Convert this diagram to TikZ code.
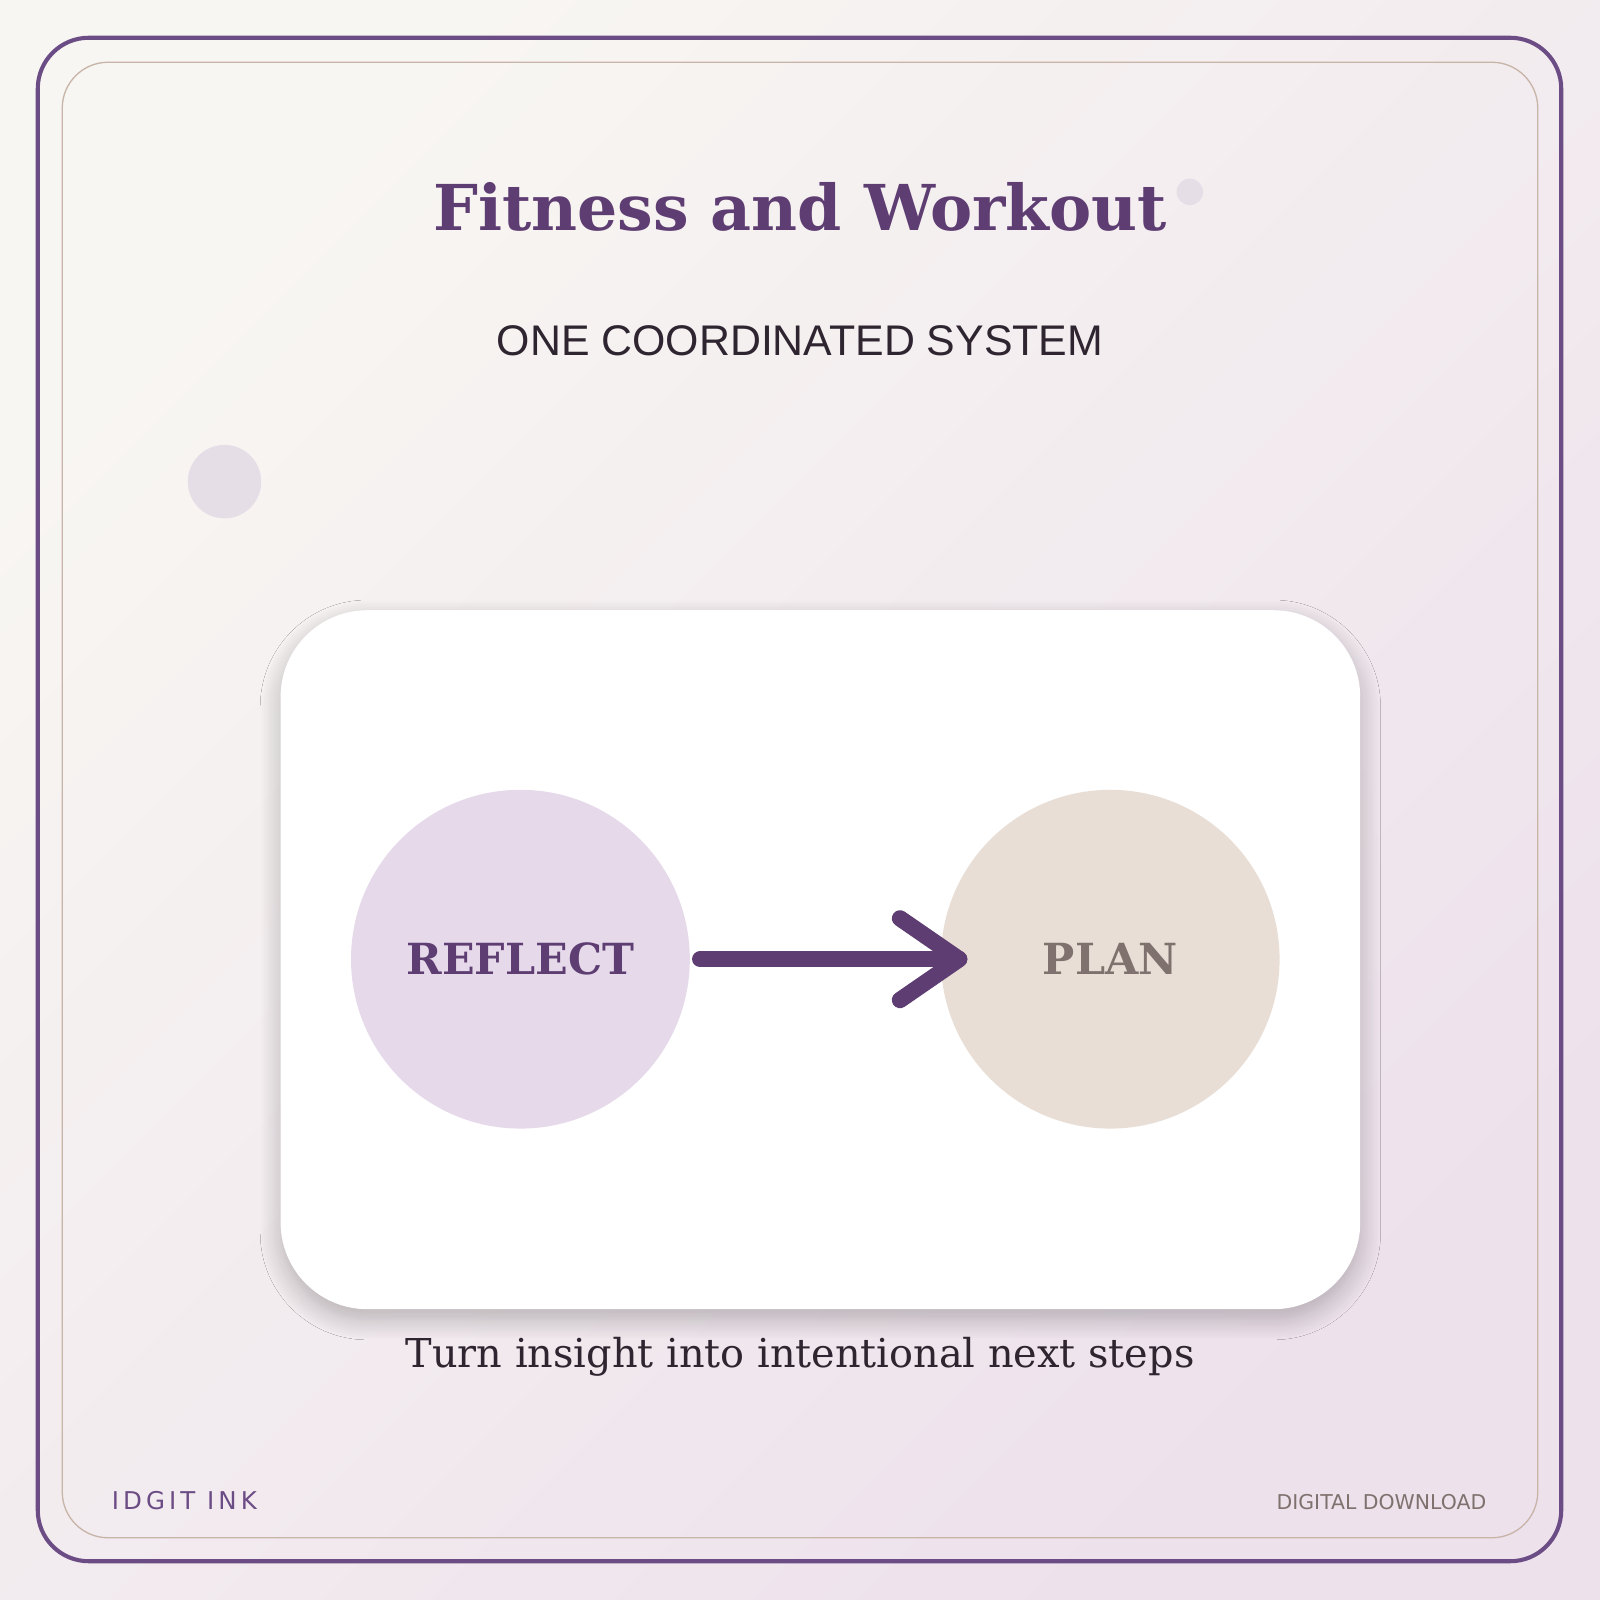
\documentclass[tikz,border=0pt]{standalone}
\usepackage{fontspec}
\setmainfont{DejaVu Serif}
\newfontfamily\lib{Liberation Sans}
\newfontfamily\dejasans{DejaVu Sans}
\usetikzlibrary{shadows.blur}
\definecolor{bgA}{HTML}{F8F6F2}
\definecolor{bgB}{HTML}{EDE1EC}
\definecolor{frame}{HTML}{6B4C85}
\definecolor{inner}{HTML}{C8B5A8}
\definecolor{deep}{HTML}{5E3D72}
\definecolor{lilac}{HTML}{E5D9EA}
\definecolor{sand}{HTML}{E8DED6}
\definecolor{planc}{HTML}{7F716D}
\definecolor{dots}{HTML}{E6DEE7}
\definecolor{ink}{HTML}{2E2530}
\begin{document}
\begin{tikzpicture}[x=1pt,y=-1pt,
  circ/.style={circle,minimum size=332pt,inner sep=0pt},
  lbl/.style={font=\fontsize{42}{50}\selectfont\bfseries}]
\useasboundingbox (0,0) rectangle (1568,1568);
\shade[top color=bgA,bottom color=bgB,shading angle=45] (0,0) rectangle (1568,1568);
\shade[left color=bgA,right color=bgB,shading angle=-45,opacity=0] (0,0) rectangle (1568,1568);
\draw[frame,line width=4pt,rounded corners=50pt] (37,37) rectangle (1530,1530);
\draw[inner,line width=1.3pt,rounded corners=45pt] (61,61) rectangle (1507,1507);
\fill[dots] (220,472) circle (36);
\fill[dots] (1166,188) circle (13);
\node[text=deep,font=\fontsize{62}{70}\selectfont\bfseries] (title) at (784,203) {Fitness and Workout};
\node[text=ink,font=\lib\fontsize{42}{50}\selectfont] (sub) at (784,334) {ONE COORDINATED SYSTEM};
\fill[white,rounded corners=85pt,blur shadow={shadow blur steps=12,shadow xshift=0pt,shadow yshift=-10pt,shadow blur radius=20pt,shadow opacity=25}] (275,598) rectangle (1333,1283);
\node[circ,fill=lilac] (reflect) at (510,940) {};
\node[lbl,text=deep] at (reflect) {REFLECT};
\node[circ,fill=sand] (plan) at (1088,940) {};
\node[lbl,text=planc] at (plan) {PLAN};
\coordinate (tip) at (940,940);
\coordinate (wa) at (882,900);
\coordinate (wb) at (882,980);
\draw[deep,line width=16pt,line cap=round,line join=round] (reflect.east) ++(10,0) -- (tip);
\draw[deep,line width=16pt,line cap=round,line join=round] (wa) -- (tip) -- (wb);
\node[text=ink,font=\fontsize{39}{46}\selectfont] (cap) at (784,1330) {Turn insight into intentional next steps};
\node[text=frame,font=\dejasans\fontsize{24}{28}\selectfont,anchor=west] (brand) at (106,1471) {I\,D\,G\,I\,T\, I\,N\,K};
\node[text=planc,font=\dejasans\fontsize{20}{24}\selectfont,anchor=east] (dl) at (1460,1472) {DIGITAL DOWNLOAD};
\end{tikzpicture}
\end{document}
